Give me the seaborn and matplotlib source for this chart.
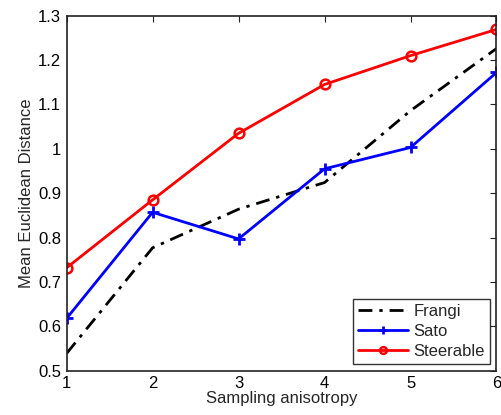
import pandas as pd
import matplotlib
matplotlib.use("Agg")
import matplotlib.pyplot as plt
import seaborn as sns

anisotropy = [1, 2, 3, 4, 5, 6]
frangi = [0.539, 0.777, 0.864, 0.924, 1.086, 1.226]
sato = [0.618, 0.857, 0.797, 0.955, 1.003, 1.172]
steerable = [0.732, 0.885, 1.035, 1.145, 1.210, 1.269]

sns.set_style("white")
plt.rcParams['font.family'] = ['Liberation Sans', 'DejaVu Sans']
plt.rcParams['font.size'] = 12

fig = plt.figure(figsize=(5.01, 4.15), dpi=100)
ax = fig.add_axes([0.133, 0.1067, 0.858, 0.8555])

sns.lineplot(x=anisotropy, y=frangi, color='black', linewidth=2,
             dashes=(5, 2.5, 1.2, 2.5), label='Frangi', ax=ax)
sns.lineplot(x=anisotropy, y=sato, color='blue', marker='+', markersize=8,
             markeredgecolor='blue', markeredgewidth=2, linewidth=2,
             label='Sato', ax=ax)
sns.lineplot(x=anisotropy, y=steerable, color='red', marker='o', markersize=7,
             markerfacecolor='none', markeredgecolor='red', markeredgewidth=1.8,
             linewidth=2, label='Steerable', ax=ax)

ax.set_xlim(1, 6)
ax.set_ylim(0.5, 1.3)
ax.set_xticks(anisotropy)
ax.set_xticklabels(['1', '2', '3', '4', '5', '6'])
yt = [0.5, 0.6, 0.7, 0.8, 0.9, 1.0, 1.1, 1.2, 1.3]
ax.set_yticks(yt)
ax.set_yticklabels(['0.5', '0.6', '0.7', '0.8', '0.9', '1', '1.1', '1.2', '1.3'])
ax.tick_params(direction='in', top=True, right=True, length=4, width=0.8,
               labelsize=12, colors='#222222', labelcolor='black', pad=4)
for s in ax.spines.values():
    s.set_color('#222222')
    s.set_linewidth(1.2)

ax.set_xlabel('Sampling anisotropy', fontsize=12, labelpad=0)
ax.set_ylabel('Mean Euclidean Distance', fontsize=12, labelpad=3)

leg = ax.legend(loc='lower right', fancybox=False, frameon=True, fontsize=12,
                handlelength=3, borderpad=0.3, labelspacing=0.3,
                handletextpad=0.3, borderaxespad=0.4, markerscale=0.7)
leg.get_frame().set_edgecolor('black')
leg.get_frame().set_linewidth(1.0)

fig.savefig('out.png', dpi=100)
